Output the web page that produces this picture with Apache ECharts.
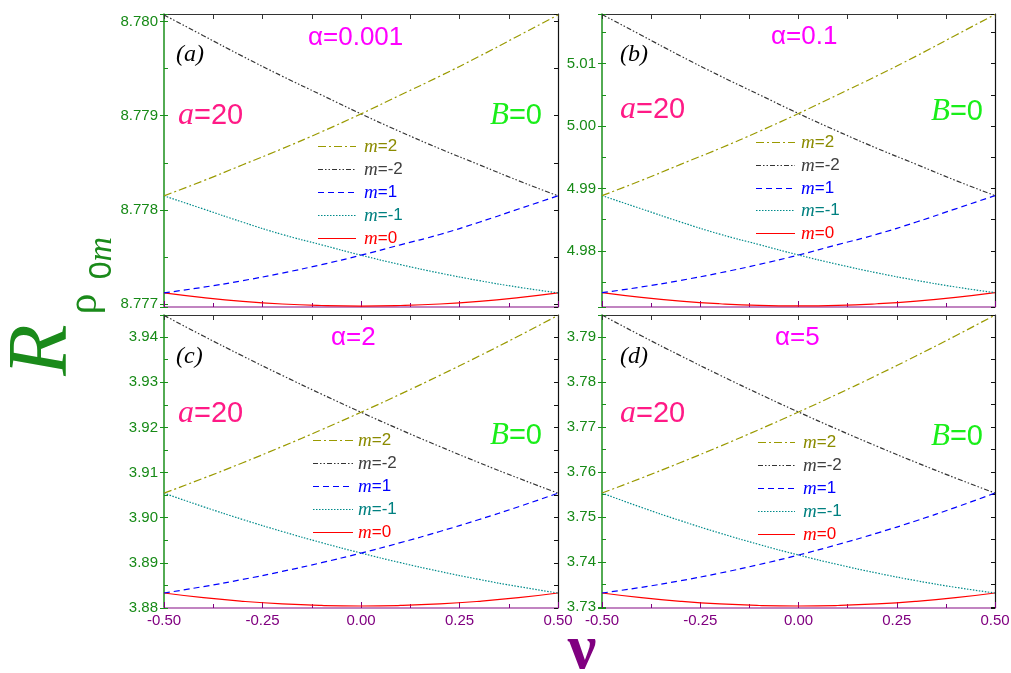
<!DOCTYPE html>
<html><head><meta charset="utf-8">
<script src="https://cdn.jsdelivr.net/npm/echarts@6/dist/echarts.min.js"></script>
<style>html,body{margin:0;padding:0;background:#fff}#c{width:1011px;height:673px}</style>
</head><body><div id="c"></div>
<script>
// ---- data ----
const nu = [-0.5, -0.4, -0.3, -0.2, -0.1, 0, 0.1, 0.2, 0.3, 0.4, 0.5];
const names = ['m=2', 'm=-2', 'm=1', 'm=-1', 'm=0'];
const xTickLabels = ['-0.50', '-0.25', '0.00', '0.25', '0.50'];

// panel (a) alpha = 0.001
const a_m2    = [8.77815, 8.77831, 8.77848, 8.77865, 8.77883, 8.77902, 8.77922, 8.77942, 8.77963, 8.77985, 8.78007];
const a_mneg2 = [8.78007, 8.77985, 8.77963, 8.77942, 8.77922, 8.77902, 8.77883, 8.77865, 8.77848, 8.77831, 8.77815];
const a_m1    = [8.77712, 8.77718, 8.77725, 8.77733, 8.77742, 8.77752, 8.77763, 8.77774, 8.77787, 8.77801, 8.77815];
const a_mneg1 = [8.77815, 8.77801, 8.77787, 8.77774, 8.77763, 8.77752, 8.77742, 8.77733, 8.77725, 8.77718, 8.77712];
const a_m0    = [8.777120, 8.777070, 8.777030, 8.777002, 8.776986, 8.776980, 8.776986, 8.777002, 8.777030, 8.777070, 8.777120];

// panel (b) alpha = 0.1
const b_m2    = [4.98886, 4.99128, 4.99386, 4.99642, 4.99914, 5.00200, 5.00501, 5.00803, 5.01120, 5.01453, 5.01784];
const b_mneg2 = [5.01784, 5.01453, 5.01120, 5.00803, 5.00501, 5.00200, 4.99914, 4.99642, 4.99386, 4.99128, 4.98886];
const b_m1    = [4.97333, 4.97424, 4.97530, 4.97650, 4.97786, 4.97936, 4.98102, 4.98269, 4.98464, 4.98675, 4.98886];
const b_mneg1 = [4.98886, 4.98675, 4.98464, 4.98269, 4.98102, 4.97936, 4.97786, 4.97650, 4.97530, 4.97424, 4.97333];
const b_m0    = [4.97333, 4.97257, 4.97198, 4.97156, 4.97130, 4.97122, 4.97130, 4.97156, 4.97198, 4.97257, 4.97333];

// panel (c) alpha = 2
const c_m2    = [3.90544, 3.90874, 3.91218, 3.91577, 3.91949, 3.92336, 3.92737, 3.93152, 3.93581, 3.94024, 3.94482];
const c_mneg2 = [3.94482, 3.94024, 3.93581, 3.93152, 3.92737, 3.92336, 3.91949, 3.91577, 3.91218, 3.90874, 3.90544];
const c_m1    = [3.88332, 3.88474, 3.88633, 3.88810, 3.89004, 3.89217, 3.89447, 3.89695, 3.89960, 3.90243, 3.90544];
const c_mneg1 = [3.90544, 3.90243, 3.89960, 3.89695, 3.89447, 3.89217, 3.89004, 3.88810, 3.88633, 3.88474, 3.88332];
const c_m0    = [3.88332, 3.88228, 3.88148, 3.88090, 3.88056, 3.88044, 3.88056, 3.88090, 3.88148, 3.88228, 3.88332];

// panel (d) alpha = 5
const d_m2    = [3.75533, 3.75865, 3.76211, 3.76571, 3.76945, 3.77333, 3.77736, 3.78153, 3.78584, 3.79029, 3.79489];
const d_mneg2 = [3.79489, 3.79029, 3.78584, 3.78153, 3.77736, 3.77333, 3.76945, 3.76571, 3.76211, 3.75865, 3.75533];
const d_m1    = [3.73311, 3.73437, 3.73585, 3.73754, 3.73944, 3.74156, 3.74389, 3.74643, 3.74918, 3.75215, 3.75533];
const d_mneg1 = [3.75533, 3.75215, 3.74918, 3.74643, 3.74389, 3.74156, 3.73944, 3.73754, 3.73585, 3.73437, 3.73311];
const d_m0    = [3.73311, 3.73207, 3.73126, 3.73068, 3.73034, 3.73022, 3.73034, 3.73068, 3.73126, 3.73207, 3.73311];

// ---- styles ----
const lineStyles = {
  'm=2':  {color: '#9a9a00', type: [8, 3, 2, 3], text: '#8b8b00'},
  'm=-2': {color: '#333333', type: [5, 2, 1.5, 2, 1.5, 2], text: '#404040'},
  'm=1':  {color: '#0000ff', type: [6, 4], text: '#0000ff'},
  'm=-1': {color: '#008b8b', type: [1.5, 1.5], text: '#008080'},
  'm=0':  {color: '#ff0000', type: 'solid', text: '#ff0000'}
};

const panels = [
  {grid: {left: 164, top: 14, width: 394, height: 293}, yMin: 8.77697, yMax: 8.78008, major: 0.001, minor: 0.0005, dec: 3, xLabels: false,
   data: [a_m2, a_mneg2, a_m1, a_mneg1, a_m0], legend: {x1: 318, x2: 356, tx: 364, y0: 146, dy: 23}},
  {grid: {left: 602, top: 14, width: 393, height: 293}, yMin: 4.97104, yMax: 5.01792, major: 0.01, minor: 0.005, dec: 2, xLabels: false,
   data: [b_m2, b_mneg2, b_m1, b_mneg1, b_m0], legend: {x1: 756, x2: 795, tx: 801, y0: 142, dy: 22.8}},
  {grid: {left: 164, top: 315, width: 394, height: 293}, yMin: 3.88, yMax: 3.9449, major: 0.01, minor: 0.005, dec: 2, xLabels: true,
   data: [c_m2, c_mneg2, c_m1, c_mneg1, c_m0], legend: {x1: 313, x2: 353, tx: 358, y0: 440, dy: 23}},
  {grid: {left: 602, top: 315, width: 393, height: 293}, yMin: 3.72978, yMax: 3.7949, major: 0.01, minor: 0.005, dec: 2, xLabels: true,
   data: [d_m2, d_mneg2, d_m1, d_mneg1, d_m0], legend: {x1: 758, x2: 795, tx: 803, y0: 442, dy: 23}}
];

const grids = [], xAxes = [], yAxes = [], series = [], graphics = [];
panels.forEach((p, i) => {
  grids.push(Object.assign({outerBoundsMode: 'none', containLabel: false}, p.grid));
  // bottom x
  xAxes.push({gridIndex: i, type: 'value', min: -0.5, max: 0.5, interval: 0.25, position: 'bottom',
    axisLine: {onZero: false, lineStyle: {color: '#c184c1', width: 2}},
    axisTick: {show: true, inside: true, length: 6, lineStyle: {color: '#800080'}},
    minorTick: {show: true, splitNumber: 2, length: 4, lineStyle: {color: '#800080'}},
    axisLabel: {show: p.xLabels, color: '#800080', fontSize: 15, fontFamily: 'Liberation Sans', margin: 5,
      formatter: v => { const k = Math.round((v + 0.5) / 0.25); return xTickLabels[k] || ''; }},
    splitLine: {show: false}});
  // top x
  xAxes.push({gridIndex: i, type: 'value', min: -0.5, max: 0.5, interval: 0.125, position: 'top',
    axisLine: {onZero: false, lineStyle: {color: '#333', width: 1.2}},
    axisTick: {show: true, inside: true, length: 5, lineStyle: {color: '#333'}},
    axisLabel: {show: false}, splitLine: {show: false}});
  // left y (major ticks outside, labels)
  yAxes.push({gridIndex: i, type: 'value', min: p.yMin, max: p.yMax, splitNumber: 4,
    minInterval: p.major, maxInterval: p.major, position: 'left',
    axisLine: {show: true, onZero: false, lineStyle: {color: '#1a8f1a', width: 1.5}},
    axisTick: {show: true, inside: false, length: 4, lineStyle: {color: '#1a8f1a'}},
    axisLabel: {color: '#178a17', fontSize: 15, fontFamily: 'Liberation Sans', margin: 6,
      formatter: v => { const k = v / p.major; return Math.abs(k - Math.round(k)) < 1e-4 ? v.toFixed(p.dec) : ''; }},
    splitLine: {show: false}});
  // right y
  yAxes.push({gridIndex: i, type: 'value', min: p.yMin, max: p.yMax, splitNumber: 8,
    minInterval: p.minor, maxInterval: p.minor, position: 'right',
    axisLine: {show: true, onZero: false, lineStyle: {color: '#111', width: 1.2}},
    axisTick: {show: true, inside: true, length: 4, lineStyle: {color: '#111'}},
    axisLabel: {show: false}, splitLine: {show: false}});
  // left y inner minor ticks
  yAxes.push({gridIndex: i, type: 'value', min: p.yMin, max: p.yMax, splitNumber: 8,
    minInterval: p.minor, maxInterval: p.minor, position: 'left', offset: 0,
    axisLine: {show: false, onZero: false},
    axisTick: {show: true, inside: true, length: 4, lineStyle: {color: '#1a8f1a'}},
    axisLabel: {show: false}, splitLine: {show: false}});
  names.forEach((n, j) => {
    const st = lineStyles[n];
    series.push({name: n, type: 'line', xAxisIndex: 2 * i, yAxisIndex: 3 * i,
      data: nu.map((x, k) => [x, p.data[j][k]]), smooth: true, symbol: 'none', showSymbol: false,
      lineStyle: {color: st.color, type: st.type, width: 1.2}, itemStyle: {color: st.color},
      clip: true, animation: false, z: 5 - j});
    // legend sample + label
    const L = p.legend, yy = Math.round(L.y0 + j * L.dy) + 0.5;
    graphics.push({type: 'line', z: 100, shape: {x1: L.x1, y1: yy, x2: L.x2, y2: yy},
      style: {stroke: st.color, lineWidth: 1.2, lineDash: st.type === 'solid' ? null : st.type}});
    graphics.push({type: 'text', x: L.tx, y: yy, z: 100,
      style: {text: '{i|m}{t|' + n.slice(1) + '}', align: 'left', verticalAlign: 'middle', fill: st.text,
        rich: {i: {font: 'italic 19px "Liberation Serif"', fill: st.text}, t: {font: '17px "Liberation Sans"', fill: st.text}}}});
  });
});

// annotation texts
const panelTags = [['(a)', 176, 55], ['(b)', 620, 55], ['(c)', 176, 357], ['(d)', 620, 357]];
const alphaTexts = [['α=0.001', 308, 38], ['α=0.1', 771, 37], ['α=2', 331, 338], ['α=5', 775, 338]];
const aTexts = [[178, 116], [620, 110], [178, 414], [620, 414]];
const bTexts = [[490, 116], [931, 112], [490, 436], [931, 437]];

panelTags.forEach(t => graphics.push({type: 'text', x: t[1], y: t[2], z: 100,
  style: {text: t[0], font: 'italic 24px "Liberation Serif"', fill: '#000', align: 'left', verticalAlign: 'middle'}}));
alphaTexts.forEach(t => graphics.push({type: 'text', x: t[1], y: t[2], z: 100,
  style: {text: t[0], font: '26px "Liberation Sans"', fill: '#ff00ff', align: 'left', verticalAlign: 'middle'}}));
aTexts.forEach(t => graphics.push({type: 'text', x: t[0], y: t[1], z: 100,
  style: {text: '{i|a}{t|=20}', fill: '#ff1a86', align: 'left', verticalAlign: 'middle',
    rich: {i: {font: 'italic 32px "Liberation Serif"', fill: '#ff1a86'}, t: {font: '29px "Liberation Sans"', fill: '#ff1a86'}}}}));
bTexts.forEach(t => graphics.push({type: 'text', x: t[0], y: t[1], z: 100,
  style: {text: '{i|B}{t|=0}', fill: '#19ee19', align: 'left', verticalAlign: 'middle',
    rich: {i: {font: 'italic 31px "Liberation Serif"', fill: '#19ee19'}, t: {font: '29px "Liberation Sans"', fill: '#19ee19'}}}}));
// axis titles
graphics.push({type: 'text', x: 44, y: 350, rotation: Math.PI / 2, z: 100,
  style: {text: 'R', font: 'italic 84px "Liberation Serif"', fill: '#1a8a1a', align: 'center', verticalAlign: 'middle'}});
graphics.push({type: 'text', x: 85, y: 304, rotation: Math.PI / 2, z: 100,
  style: {text: 'ρ', font: '42px "Liberation Serif"', fill: '#1a8a1a', align: 'center', verticalAlign: 'middle'}});
graphics.push({type: 'text', x: 102, y: 258, rotation: Math.PI / 2, z: 100,
  style: {text: '{z|0}{m|m}', fill: '#1a8a1a', align: 'center', verticalAlign: 'middle',
    rich: {z: {font: '32px "Liberation Sans"', fill: '#1a8a1a'}, m: {font: 'italic 34px "Liberation Serif"', fill: '#1a8a1a'}}}});
graphics.push({type: 'text', x: 582, y: 651, z: 100,
  style: {text: 'ν', font: 'bold 64px "Liberation Serif"', fill: '#800080', align: 'center', verticalAlign: 'middle'}});

const chart = echarts.init(document.getElementById('c'), null, {renderer: 'canvas'});
chart.setOption({
  animation: false,
  backgroundColor: '#fff',
  grid: grids, xAxis: xAxes, yAxis: yAxes, series: series, graphic: graphics
});
</script></body></html>
